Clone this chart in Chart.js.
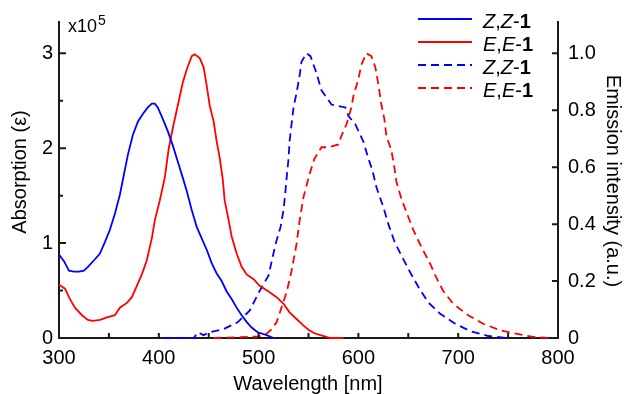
<!DOCTYPE html>
<html>
<head>
<meta charset="utf-8">
<script src="https://cdn.jsdelivr.net/npm/chart.js@4/dist/chart.umd.min.js"></script>
<style>
  html, body { margin: 0; padding: 0; background: #fff; }
  #wrap { width: 625px; height: 394px; }
</style>
</head>
<body>
<div id="wrap"><canvas id="chart" width="625" height="394"></canvas></div>
<script>
  // absorption (x10^5) — Z,Z-1 and E,E-1
  const zzAbsNm = [300, 305, 310, 315, 320, 325, 329, 336, 341, 346, 351, 356, 361, 365, 369, 374, 379, 384, 389, 393, 396, 399, 404, 409, 414, 419, 424, 428, 433, 438, 443, 448, 453, 458, 463, 468, 473, 478, 483, 488, 493, 499, 508, 515];
  const zzAbsVal = [0.88, 0.81, 0.71, 0.70, 0.70, 0.71, 0.75, 0.83, 0.89, 1.01, 1.14, 1.31, 1.51, 1.72, 1.93, 2.14, 2.28, 2.36, 2.43, 2.47, 2.47, 2.43, 2.31, 2.18, 2.03, 1.86, 1.69, 1.55, 1.35, 1.17, 1.05, 0.93, 0.79, 0.68, 0.60, 0.49, 0.41, 0.32, 0.24, 0.17, 0.11, 0.06, 0.03, 0];
  const eeAbsNm = [300, 306, 311, 316, 323, 329, 334, 341, 349, 356, 361, 368, 373, 378, 383, 388, 393, 396, 401, 406, 410, 414, 419, 424, 428, 433, 436, 441, 445, 448, 451, 455, 458, 461, 464, 466, 470, 473, 478, 483, 488, 495, 501, 510, 518, 525, 531, 538, 545, 551, 556, 562, 572, 585];
  const eeAbsVal = [0.56, 0.52, 0.41, 0.32, 0.24, 0.19, 0.18, 0.19, 0.22, 0.24, 0.32, 0.37, 0.43, 0.55, 0.67, 0.82, 1.05, 1.24, 1.45, 1.69, 2.0, 2.21, 2.45, 2.69, 2.83, 2.97, 2.99, 2.95, 2.85, 2.66, 2.45, 2.28, 2.07, 1.90, 1.68, 1.45, 1.24, 1.07, 0.89, 0.75, 0.67, 0.62, 0.55, 0.49, 0.43, 0.36, 0.27, 0.20, 0.13, 0.08, 0.05, 0.03, 0, 0];

  // emission (a.u.)
  const zzEmNm = [405, 435, 439, 445, 450, 464, 479, 491, 501, 510, 517, 522, 525, 527, 528, 530, 531, 533, 535, 538, 541, 543, 548, 552, 558, 563, 573, 587, 590, 597, 605, 610, 614, 618, 625, 630, 636, 643, 652, 660, 670, 682, 697, 713, 730, 749];
  const zzEmVal = [0, 0, 0.02, 0.01, 0.02, 0.03, 0.055, 0.096, 0.165, 0.22, 0.33, 0.39, 0.45, 0.52, 0.56, 0.63, 0.69, 0.75, 0.81, 0.86, 0.92, 0.97, 1.0, 0.99, 0.93, 0.87, 0.82, 0.81, 0.78, 0.75, 0.69, 0.63, 0.59, 0.53, 0.46, 0.40, 0.34, 0.29, 0.23, 0.18, 0.125, 0.085, 0.05, 0.023, 0.007, 0];
  const eeEmNm = [455, 500, 508, 513, 518, 528, 533, 538, 541, 545, 548, 551, 556, 563, 570, 580, 583, 588, 593, 595, 600, 603, 608, 613, 617, 620, 623, 626, 628, 633, 636, 638, 643, 650, 655, 663, 672, 677, 685, 695, 710, 725, 742, 758, 775, 792, 800];
  const eeEmVal = [0, 0.005, 0.015, 0.03, 0.055, 0.16, 0.235, 0.33, 0.41, 0.495, 0.535, 0.575, 0.63, 0.67, 0.67, 0.68, 0.71, 0.75, 0.81, 0.85, 0.91, 0.96, 1.0, 0.99, 0.95, 0.89, 0.82, 0.77, 0.71, 0.66, 0.60, 0.55, 0.49, 0.425, 0.38, 0.32, 0.26, 0.22, 0.165, 0.12, 0.08, 0.05, 0.027, 0.015, 0.004, 0, 0];

  const xTicks = [300, 400, 500, 600, 700, 800];
  const xMinor = [350, 450, 550, 650, 750];
  const absTicks = [0, 1, 2, 3];
  const absMinor = [0.5, 1.5, 2.5];
  const emTicks = [0, 0.2, 0.4, 0.6, 0.8, 1.0];
  const seriesLabels = ['Z,Z-1', 'E,E-1', 'Z,Z-1', 'E,E-1'];

  const FONT = '"Liberation Sans", Arial, sans-serif';
  const INK = '#1a1a1a';
  Chart.defaults.font.family = FONT;
  Chart.defaults.color = '#000';

  function pts(xs, ys) {
    return xs.map((x, i) => ({ x: x, y: ys[i] }));
  }

  function fixedTicks(list) {
    return function (s) { s.ticks = list.map(v => ({ value: v })); };
  }

  // label like "Z,Z-1": letters italic, digit bold
  function drawLabel(ctx, text, x, y) {
    for (const ch of text) {
      let style = 'normal';
      if (/[A-Za-z]/.test(ch)) style = 'italic';
      else if (/[0-9]/.test(ch)) style = 'bold';
      ctx.font = style + ' 20px ' + FONT;
      ctx.fillText(ch, x, y);
      x += ctx.measureText(ch).width;
    }
  }

  const decor = {
    id: 'decor',
    afterDraw(chart) {
      const ctx = chart.ctx;
      const a = chart.chartArea;
      const sx = chart.scales.x, sy = chart.scales.y, sy2 = chart.scales.y2;
      ctx.save();
      ctx.strokeStyle = INK;
      ctx.lineWidth = 2;
      ctx.beginPath();
      xTicks.concat(xMinor).forEach(v => {
        const px = sx.getPixelForValue(v);
        ctx.moveTo(px, a.bottom); ctx.lineTo(px, a.bottom - 5);
      });
      absTicks.forEach(v => {
        const py = sy.getPixelForValue(v);
        ctx.moveTo(a.left, py); ctx.lineTo(a.left + 7, py);
      });
      absMinor.forEach(v => {
        const py = sy.getPixelForValue(v);
        ctx.moveTo(a.left, py); ctx.lineTo(a.left + 4, py);
      });
      emTicks.forEach(v => {
        const py = sy2.getPixelForValue(v);
        ctx.moveTo(a.right, py); ctx.lineTo(a.right - 6, py);
      });
      ctx.stroke();

      // exponent marker
      ctx.fillStyle = '#000';
      ctx.textAlign = 'left';
      ctx.textBaseline = 'alphabetic';
      ctx.font = '18px ' + FONT;
      ctx.fillText('x10', 68, 32);
      ctx.font = '14px ' + FONT;
      ctx.fillText('5', 98, 25);

      // axis titles
      ctx.font = '20px ' + FONT;
      ctx.textAlign = 'center';
      ctx.fillText('Wavelength [nm]', 308, 390);
      ctx.textBaseline = 'middle';
      ctx.save();
      ctx.translate(20, 172);
      ctx.rotate(-Math.PI / 2);
      ctx.fillText('Absorption (\u03b5)', 0, 0);
      ctx.restore();
      ctx.save();
      ctx.translate(613, 181);
      ctx.rotate(Math.PI / 2);
      ctx.fillText('Emission intensity (a.u.)', 0, 0);
      ctx.restore();

      // legend
      ctx.textAlign = 'left';
      ctx.textBaseline = 'alphabetic';
      chart.data.datasets.forEach((ds, i) => {
        const ly = 19 + i * 23;
        ctx.strokeStyle = ds.borderColor;
        ctx.lineWidth = 2;
        ctx.setLineDash(ds.borderDash || []);
        ctx.beginPath();
        ctx.moveTo(418, ly); ctx.lineTo(472, ly);
        ctx.stroke();
        ctx.setLineDash([]);
        ctx.fillStyle = '#000';
        drawLabel(ctx, ds.label, 483, ly + 9);
      });
      ctx.restore();
    }
  };

  function line(label, data, color, axis, dash) {
    return {
      label: label, data: data, yAxisID: axis,
      borderColor: color, borderWidth: 1.8, borderDash: dash,
      pointRadius: 0, tension: 0, fill: false, clip: false
    };
  }

  new Chart(document.getElementById('chart').getContext('2d'), {
    type: 'line',
    data: {
      datasets: [
        line(seriesLabels[0], pts(zzAbsNm, zzAbsVal), '#0000ff', 'y', []),
        line(seriesLabels[1], pts(eeAbsNm, eeAbsVal), '#ff0000', 'y', []),
        line(seriesLabels[2], pts(zzEmNm, zzEmVal), '#0000ff', 'y2', [8, 5]),
        line(seriesLabels[3], pts(eeEmNm, eeEmVal), '#ff0000', 'y2', [8, 5])
      ]
    },
    options: {
      responsive: false,
      animation: false,
      layout: { padding: { top: 18, left: 0, right: 0, bottom: 0 } },
      plugins: { legend: { display: false }, tooltip: { enabled: false } },
      scales: {
        x: {
          type: 'linear', min: 300, max: 800,
          afterBuildTicks: fixedTicks(xTicks),
          afterFit: s => { s.height = 56; },
          grid: { display: false, drawTicks: false },
          border: { color: INK, width: 2 },
          ticks: { font: { size: 20 }, padding: 8, autoSkip: false, maxRotation: 0 }
        },
        y: {
          position: 'left', min: 0, max: 3.33,
          afterBuildTicks: fixedTicks(absTicks),
          afterFit: s => { s.width = 59; },
          grid: { display: false, drawTicks: false },
          border: { color: INK, width: 2 },
          ticks: { font: { size: 20 }, padding: 6 }
        },
        y2: {
          position: 'right', min: 0, max: 1.11,
          afterBuildTicks: fixedTicks(emTicks),
          afterFit: s => { s.width = 67; },
          grid: { display: false, drawTicks: false },
          border: { color: INK, width: 2 },
          ticks: { font: { size: 20 }, padding: 10, callback: v => v === 0 ? '0' : v.toFixed(1) }
        }
      }
    },
    plugins: [decor]
  });
</script>
</body>
</html>
